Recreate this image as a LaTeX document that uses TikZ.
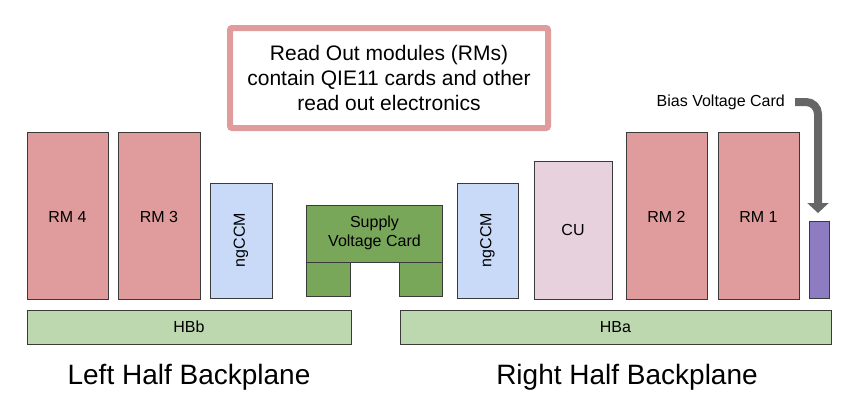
\documentclass[tikz,border=0pt]{standalone}
\usepackage{fontspec}
\setmainfont{Liberation Sans}
\usetikzlibrary{arrows.meta}
\definecolor{rmred}{HTML}{E09C9C}
\definecolor{ccmblue}{HTML}{C9DAF8}
\definecolor{cupink}{HTML}{E6D1DC}
\definecolor{supgreen}{HTML}{78A75A}
\definecolor{hbgreen}{HTML}{BDD7AE}
\definecolor{biaspurple}{HTML}{8E7CC3}
\definecolor{edge}{HTML}{3A3A3A}
\definecolor{arrowgray}{HTML}{666666}
\begin{document}
\begin{tikzpicture}[x=1pt,y=-1pt,
  card/.style={draw=edge,line width=0.9pt,inner sep=0pt},
  lbl/.style={font=\fontsize{16}{19}\selectfont,align=center,inner sep=0pt},
  big/.style={font=\fontsize{28}{32}\selectfont,inner sep=0pt}]
\useasboundingbox (0,0) rectangle (852,416);
% note box
\draw[draw=rmred,line width=6pt,rounded corners=2pt,fill=white] (230,28) rectangle (548,128);
\node[inner sep=0pt,align=center,font=\fontsize{21}{25}\selectfont] (note) at (389,78)
  {Read Out modules (RMs)\\contain QIE11 cards and other\\read out electronics};
% backplanes
\draw[card,fill=hbgreen] (27,310) rectangle (351,344);
\node[lbl] (hbb) at (189,327) {HBb};
\draw[card,fill=hbgreen] (400,310) rectangle (831,344);
\node[lbl] (hba) at (615.5,327) {HBa};
% RMs
\draw[card,fill=rmred] (27,132) rectangle (108,299);
\node[lbl] (rm4) at (67.5,217) {RM 4};
\draw[card,fill=rmred] (118,132) rectangle (200,299);
\node[lbl] (rm3) at (159,217) {RM 3};
\draw[card,fill=rmred] (626,132) rectangle (707,299);
\node[lbl] (rm2) at (666.5,217) {RM 2};
\draw[card,fill=rmred] (718,132) rectangle (799,299);
\node[lbl] (rm1) at (758.5,217) {RM 1};
% ngCCMs
\draw[card,fill=ccmblue] (210,183) rectangle (272,298);
\node[lbl,rotate=90] (ccml) at (241,240) {ngCCM};
\draw[card,fill=ccmblue] (457,183) rectangle (518,298);
\node[lbl,rotate=90] (ccmr) at (487.5,240) {ngCCM};
% CU
\draw[card,fill=cupink] (534,161) rectangle (612,299);
\node[lbl] (cu) at (573,230) {CU};
% supply voltage card
\draw[card,fill=supgreen] (306.5,205) rectangle (442.5,262);
\draw[card,fill=supgreen] (306.5,262) rectangle (350,296.5);
\draw[card,fill=supgreen] (399.5,262) rectangle (442.5,296.5);
\node[lbl] (svc) at (374.5,233) {Supply\\Voltage Card};
% bias voltage card
\draw[card,fill=biaspurple] (809.5,221) rectangle (829.5,298);
\coordinate (biastop) at (818,213);
\coordinate (arrstart) at (795,102);
\node[lbl,anchor=east] (biaslbl) at (785,102) {Bias Voltage Card};
\draw[arrowgray,line width=8pt,rounded corners=12pt,-{Triangle[width=21pt,length=10pt]}]
  (arrstart) -| (biastop);
% titles
\node[big] (left) at (189,377) {Left Half Backplane};
\node[big] (right) at (627,377) {Right Half Backplane};
\end{tikzpicture}
\end{document}
